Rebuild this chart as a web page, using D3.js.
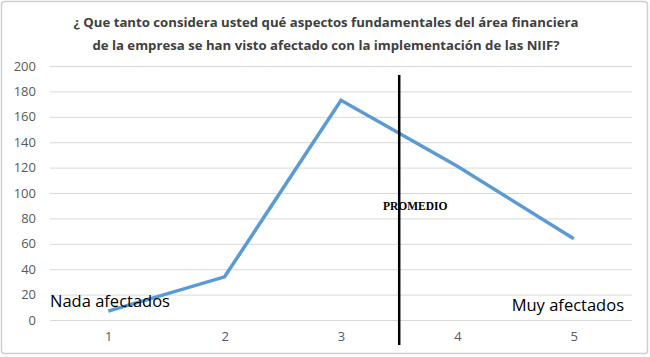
<!DOCTYPE html>
<html>
<head>
<meta charset="utf-8">
<script src="https://cdn.jsdelivr.net/npm/d3@7"></script>
<style>
  body { margin: 0; background: #fff; }
  svg { display: block; }
</style>
</head>
<body>
<script>
const width = 650;
const height = 357;

// data
const categories = [1, 2, 3, 4, 5];
const values = [7, 34, 173, 121, 64];
const yTicks = [0, 20, 40, 60, 80, 100, 120, 140, 160, 180, 200];
const promedio = 3.5;
const titleLines = [
    "¿ Que tanto considera usted qué aspectos fundamentales del área financiera",
    "de la empresa se han visto afectado con la implementación de las NIIF?"
];

const plotLeft = 50, plotRight = 632, plotTop = 66, plotBottom = 320;

const svg = d3.select("body")
    .append("svg")
    .attr("width", width)
    .attr("height", height);

// outer frame
svg.append("rect")
    .attr("x", 1.5).attr("y", 1.5)
    .attr("width", width - 4).attr("height", height - 5)
    .attr("rx", 3)
    .attr("fill", "#fff")
    .attr("stroke", "#d0d0d0")
    .attr("stroke-width", 1.5);

const xScale = d3.scaleLinear()
    .domain([0.5, 5.5])
    .range([plotLeft, plotRight]);

const yScale = d3.scaleLinear()
    .domain([0, 200])
    .range([plotBottom, plotTop]);

// gridlines + y labels
const yAxis = svg.append("g")
    .attr("transform", "translate(" + plotLeft + ",0)")
    .call(d3.axisLeft(yScale).tickValues(yTicks).tickSize(-(plotRight - plotLeft)).tickPadding(14));
yAxis.select(".domain").remove();
yAxis.selectAll(".tick line").attr("stroke", "#d9d9d9").attr("stroke-width", 1);
yAxis.selectAll(".tick text")
    .attr("fill", "#595959")
    .style("font-family", "'Open Sans', sans-serif")
    .style("font-size", "13px");

// x labels
const xAxis = svg.append("g")
    .attr("transform", "translate(0," + plotBottom + ")")
    .call(d3.axisBottom(xScale).tickValues(categories).tickFormat(d3.format("d")).tickSize(0).tickPadding(12));
xAxis.select(".domain").remove();
xAxis.selectAll(".tick text")
    .attr("fill", "#595959")
    .style("font-family", "'Open Sans', sans-serif")
    .style("font-size", "13px");

// title
svg.append("g").selectAll("text")
    .data(titleLines)
    .enter()
    .append("text")
    .attr("x", 326)
    .attr("y", (d, i) => 27 + i * 23)
    .attr("text-anchor", "middle")
    .attr("fill", "#404040")
    .style("font-family", "'Open Sans', sans-serif")
    .style("font-weight", "bold")
    .style("font-size", "13.2px")
    .text(d => d);

// the line
const line = d3.line()
    .x((d, i) => xScale(categories[i]))
    .y(d => yScale(d));

svg.append("path")
    .datum(values)
    .attr("d", line)
    .attr("fill", "none")
    .attr("stroke", "#5b9bd5")
    .attr("stroke-width", 3.5)
    .attr("stroke-linejoin", "miter");

// promedio marker
svg.append("line")
    .attr("x1", xScale(promedio)).attr("x2", xScale(promedio))
    .attr("y1", 75).attr("y2", 345)
    .attr("stroke", "#000")
    .attr("stroke-width", 2.5);

svg.append("text")
    .attr("x", xScale(promedio) + 16)
    .attr("y", 210)
    .attr("text-anchor", "middle")
    .style("font-family", "'Liberation Serif', serif")
    .style("font-weight", "bold")
    .style("font-size", "11.5px")
    .attr("fill", "#000")
    .text("PROMEDIO");

// end labels
svg.append("text")
    .attr("x", 50).attr("y", 307)
    .style("font-family", "'Open Sans', sans-serif")
    .style("font-size", "16.5px")
    .attr("fill", "#000")
    .text("Nada afectados");

svg.append("text")
    .attr("x", 624).attr("y", 311)
    .attr("text-anchor", "end")
    .style("font-family", "'Open Sans', sans-serif")
    .style("font-size", "16.5px")
    .attr("fill", "#000")
    .text("Muy afectados");
</script>
</body>
</html>
